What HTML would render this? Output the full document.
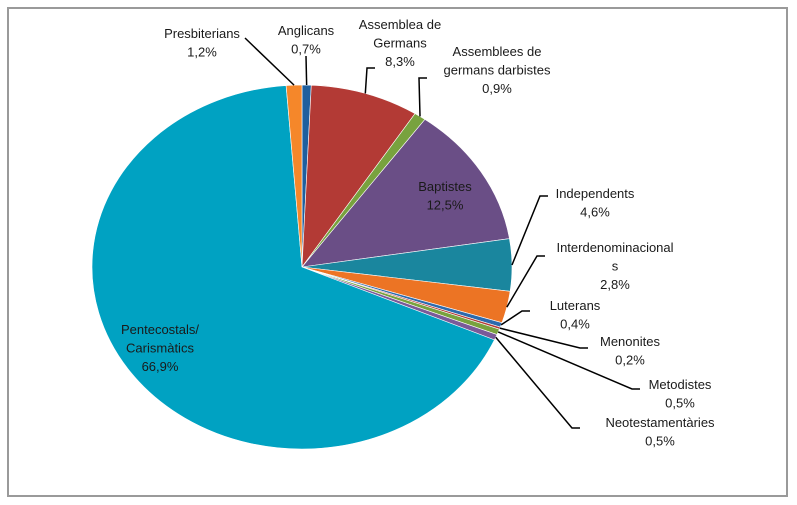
<!DOCTYPE html>
<html><head><meta charset="utf-8"><style>
html,body{margin:0;padding:0;background:#fff;width:797px;height:505px;overflow:hidden}
svg text{font-family:"Liberation Sans",sans-serif;font-size:13px;fill:#1a1a1a;text-anchor:middle}
</style></head><body>
<svg id="chart" width="797" height="505" viewBox="0 0 797 505">
<rect x="8" y="8" width="779" height="488" fill="#fff" stroke="#9a9a9a" stroke-width="2"/>
<g id="slices"></g><g id="leaders"></g><g id="labels"></g>
</svg>
<script>
const categories=["Anglicans","Assemblea de Germans","Assemblees de germans darbistes","Baptistes","Independents","Interdenominacionals","Luterans","Menonites","Metodistes","Neotestamentàries","Pentecostals/ Carismàtics","Presbiterians"];
const values=[0.7,8.3,0.9,12.5,4.6,2.8,0.4,0.2,0.5,0.5,66.9,1.2];
const valueLabels=["0,7%","8,3%","0,9%","12,5%","4,6%","2,8%","0,4%","0,2%","0,5%","0,5%","66,9%","1,2%"];
const colors=["#1f5f9e","#b33a35","#78a23e","#6a4e86","#1a869e","#ec7424","#2c6aad","#b33a35","#78a23e","#7a5a99","#00a2c2","#f5872a"];
const cx=302,cy=267,rx=210,ry=182;
// label layout: [lines of text, x, firstY, leader path end x,y (text side) or null]
const layout=[
 [["Anglicans"],306,35,306,56],
 [["Assemblea de","Germans"],400,29,375,68],
 [["Assemblees de","germans darbistes"],497,56,427,78],
 [["Baptistes"],445,191,null,null],
 [["Independents"],595,198,548,196],
 [["Interdenominacional","s"],615,252,545,256],
 [["Luterans"],575,310,530,311],
 [["Menonites"],630,346,588,348],
 [["Metodistes"],680,389,640,389],
 [["Neotestamentàries"],660,427,580,428],
 [["Pentecostals/","Carismàtics"],160,334,null,null],
 [["Presbiterians"],202,38,245,38]
];
const NS="http://www.w3.org/2000/svg";
const total=values.reduce((a,b)=>a+b,0);
function pt(a,k){return [cx+rx*k*Math.sin(a),cy-ry*k*Math.cos(a)];}
let ang=0;
const sg=document.getElementById('slices'),lg=document.getElementById('leaders'),tg=document.getElementById('labels');
values.forEach((v,i)=>{
 const a0=ang,a1=ang+v/total*2*Math.PI;ang=a1;
 const p0=pt(a0,1),p1=pt(a1,1);
 const large=(a1-a0)>Math.PI?1:0;
 const p=document.createElementNS(NS,'path');
 p.setAttribute('d',`M${cx},${cy}L${p0[0]},${p0[1]}A${rx},${ry} 0 ${large} 1 ${p1[0]},${p1[1]}Z`);
 p.setAttribute('fill',colors[i]);p.setAttribute('stroke','#fff');p.setAttribute('stroke-width','0.6');
 
 
 sg.appendChild(p);
 const L=layout[i];const mid=(a0+a1)/2;
 if(L[3]!==null){
  const e=pt(mid,1);
  const ln=document.createElementNS(NS,'path');
  const hx=L[3]<e[0]?L[3]+8:L[3]-8;
  ln.setAttribute('d',`M${e[0]},${e[1]}L${hx},${L[4]}L${L[3]},${L[4]}`);
  if(i===0||i===11)ln.setAttribute('d',`M${e[0]},${e[1]}L${L[3]},${L[4]}`);
  ln.setAttribute('fill','none');ln.setAttribute('stroke','#000');ln.setAttribute('stroke-width','1.5');
  
  
  lg.appendChild(ln);
 }
 const lines=L[0].concat([valueLabels[i]]);
 lines.forEach((s,j)=>{
  const t=document.createElementNS(NS,'text');
  t.setAttribute('x',L[1]);t.setAttribute('y',L[2]+j*18.5);
  t.textContent=s;
  
  
  tg.appendChild(t);
 });
});
</script>
</body></html>
